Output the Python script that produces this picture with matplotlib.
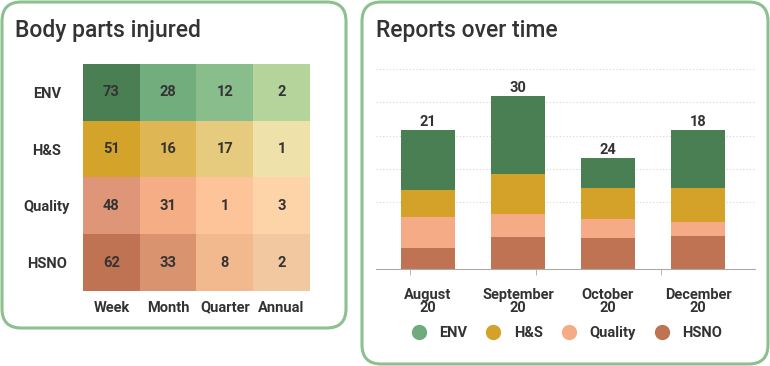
import numpy as np
import matplotlib.pyplot as plt
from matplotlib.patches import FancyBboxPatch
from matplotlib.lines import Line2D
from matplotlib.colors import to_rgb

plt.rcParams['font.family'] = ['Roboto', 'DejaVu Sans']

# heatmap data
groups = ['ENV', 'H&S', 'Quality', 'HSNO']
periods = ['Week', 'Month', 'Quarter', 'Annual']
counts = [[73, 28, 12, 2],
          [51, 16, 17, 1],
          [48, 31, 1, 3],
          [62, 33, 8, 2]]

# stacked bar data
months = ['August\n20', 'September\n20', 'October\n20', 'December\n20']
env = [9.1, 11.7, 4.5, 8.7]
hs = [3.95, 6.0, 4.6, 5.1]
quality = [4.65, 3.45, 2.9, 2.1]
hsno = [3.2, 4.85, 4.6, 5.0]
totals = [21, 30, 24, 18]

# colours
cell_colors = [['#4a7f54', '#72ad7e', '#89bd8c', '#b4d49c'],
               ['#d4a32a', '#deb654', '#e6cb7e', '#efe1aa'],
               ['#df9578', '#f5ad86', '#fcc498', '#fdd3a8'],
               ['#c07352', '#d9936e', '#f2b98e', '#f2c8a0']]
bar_colors = {'ENV': '#4a7f53', 'H&S': '#d4a229', 'Quality': '#f5ab86', 'HSNO': '#c07352'}
legend_colors = {'ENV': '#6fab7c', 'H&S': '#d4a229', 'Quality': '#f5ab86', 'HSNO': '#c07352'}
txt = '#333333'
border = '#8cc08f'
fs = 10.5

W, H = 770, 366
fig = plt.figure(figsize=(W / 100, H / 100), dpi=100)


def px(x0, y0, x1, y1):
    # pixel box (top-left origin) -> figure fraction rect
    return [x0 / W, 1 - y1 / H, (x1 - x0) / W, (y1 - y0) / H]


# panel frames
for x0, y0, x1, y1 in [(2, 2, 346, 328), (362, 2, 768, 364)]:
    r = px(x0, y0, x1, y1)
    fig.patches.append(FancyBboxPatch((r[0], r[1]), r[2], r[3],
                                      boxstyle='round,pad=0,rounding_size=0.025',
                                      transform=fig.transFigure, facecolor='white',
                                      edgecolor=border, linewidth=2.2,
                                      mutation_aspect=W / H, zorder=-5))

fig.text(15 / W, 1 - 31 / H, 'Body parts injured', fontsize=16.5, color=txt,
         va='center', fontweight='medium')
fig.text(376 / W, 1 - 31 / H, 'Reports over time', fontsize=16.5, color=txt,
         va='center', fontweight='medium')

# ---- heatmap ----
ax1 = fig.add_axes(px(83, 64, 310, 291))
rgb = np.array([[to_rgb(c) for c in row] for row in cell_colors])
ax1.imshow(rgb, aspect='auto')
for i in range(len(groups)):
    for j in range(len(periods)):
        ax1.text(j, i, str(counts[i][j]), ha='center', va='center',
                 fontsize=fs, fontweight='bold', color=txt)
ax1.set_xticks(range(len(periods)))
ax1.set_xticklabels(periods, fontsize=fs, fontweight='bold', color=txt)
ax1.set_yticks(range(len(groups)))
ax1.set_yticklabels(groups, fontsize=fs, fontweight='bold', color=txt, ha='center')
ax1.tick_params(length=0)
ax1.tick_params(axis='x', pad=7)
ax1.tick_params(axis='y', pad=26)
for s in ax1.spines.values():
    s.set_visible(False)

# ---- stacked bars ----
ax2 = fig.add_axes(px(376, 50, 755, 269))
x = np.arange(len(months))
bottom = np.zeros(len(months))
for name, vals in [('HSNO', hsno), ('Quality', quality), ('H&S', hs), ('ENV', env)]:
    ax2.bar(x, vals, 0.6, bottom=bottom, color=bar_colors[name], zorder=2)
    bottom += np.array(vals)
for xi, top, t in zip(x, bottom, totals):
    ax2.text(xi, top + 0.15, str(t), ha='center', va='bottom',
             fontsize=fs, fontweight='bold', color=txt)

ax2.set_xlim(-0.578, 3.633)
ax2.set_ylim(0, 32.85)
ax2.set_yticks([])
for yv in [10, 15, 20, 25, 30]:
    ax2.axhline(yv, color='#d5d5d5', linestyle=(0, (1, 2)), linewidth=0.8, zorder=0)
for s in ['top', 'right', 'left']:
    ax2.spines[s].set_visible(False)
ax2.spines['bottom'].set_color('#aaaaaa')
ax2.set_xticks(x)
ax2.set_xticklabels(months, fontsize=fs, fontweight='bold', color=txt, linespacing=0.85)
ax2.tick_params(axis='x', length=0, pad=14)
ax2.set_xticks([-0.2, 1.2, 2.59], minor=True)
ax2.tick_params(axis='x', which='minor', length=4, color='#aaaaaa')

handles = [Line2D([], [], marker='o', linestyle='none', markersize=11,
                  markerfacecolor=legend_colors[n], markeredgecolor='none', label=n)
           for n in ['ENV', 'H&S', 'Quality', 'HSNO']]
leg = fig.legend(handles=handles, loc='center', bbox_to_anchor=(566 / W, 1 - 333 / H),
                 ncol=4, frameon=False, handlelength=1.2, handletextpad=0.8,
                 columnspacing=1.2, prop={'size': fs, 'weight': 'bold'})
for t in leg.get_texts():
    t.set_color(txt)

fig.savefig('out.png', dpi=100)
